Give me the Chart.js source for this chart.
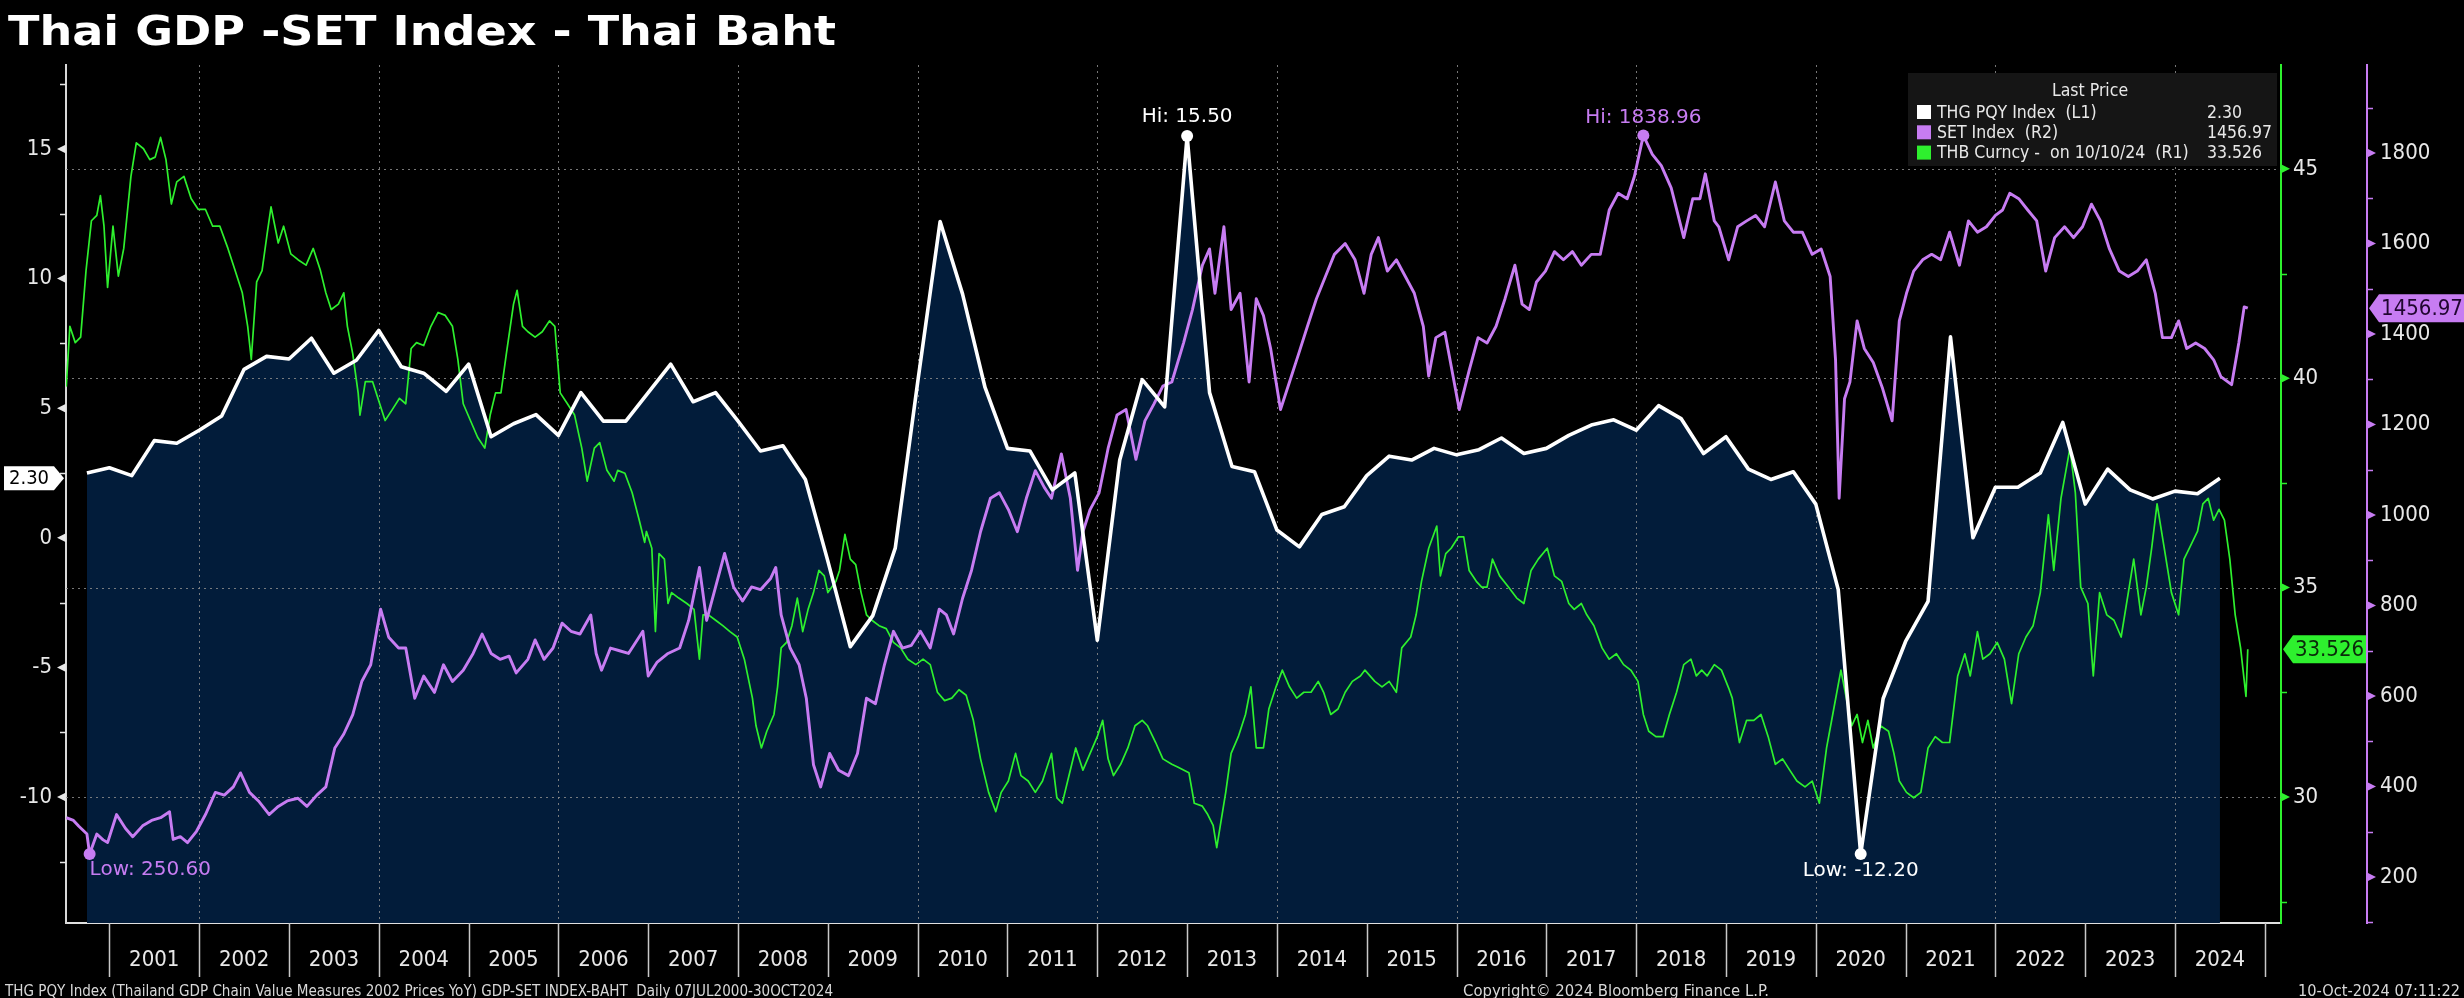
<!DOCTYPE html>
<html><head><meta charset="utf-8">
<style>html,body{margin:0;padding:0;background:#000;overflow:hidden}canvas{display:block}</style>
<script src="https://cdn.jsdelivr.net/npm/chart.js@4.4.1/dist/chart.umd.min.js"></script>
</head><body>
<canvas id="c" width="2464" height="998"></canvas>
<script>
// ---------- DATA ----------
const titleText = 'Thai GDP -SET Index - Thai Baht';
const yearLabels = [2001,2002,2003,2004,2005,2006,2007,2008,2009,2010,2011,2012,2013,2014,2015,2016,2017,2018,2019,2020,2021,2022,2023,2024];
const yearBounds = [2001,2002,2003,2004,2005,2006,2007,2008,2009,2010,2011,2012,2013,2014,2015,2016,2017,2018,2019,2020,2021,2022,2023,2024,2025];
const gridYears = [2002,2004,2006,2008,2010,2012,2014,2016,2018,2020,2022,2024];
const gdpTicks = [-10,-5,0,5,10,15];
const gdpMinor = [-12.5,-7.5,-2.5,2.5,7.5,12.5,17.5];
const thbTicks = [30,35,40,45];
const thbMinor = [27.5,32.5,37.5,42.5,47.5];
const setTicks = [200,400,600,800,1000,1200,1400,1600,1800];
const setMinor = [100,300,500,700,900,1100,1300,1500,1700,1900];

// Thai GDP YoY %, quarterly, first observation = Q3 2000 (plotted at quarter end)
const gdpFirstQuarterEnd = 2000.75;
const gdpValues = [
  2.5,
  2.7, 2.4, 3.75, 3.65,
  4.15, 4.7, 6.5, 7.0,
  6.9, 7.7, 6.35, 6.85,
  8.0, 6.6, 6.35, 5.65,
  6.7, 3.9, 4.4, 4.75,
  3.95, 5.6, 4.5, 4.5,
  5.6, 6.7, 5.25, 5.6,
  4.5, 3.35, 3.55, 2.25,
  -0.9, -4.2, -3.0, -0.4,
  6.0, 12.2, 9.4, 5.8,
  3.45, 3.35, 1.85, 2.5,
  -3.95, 3.0, 6.1, 5.05,
  15.5, 5.6, 2.75, 2.55,
  0.3, -0.35, 0.9, 1.2,
  2.4, 3.15, 3.0, 3.45,
  3.2, 3.4, 3.85, 3.25,
  3.45, 3.95, 4.35, 4.55,
  4.15, 5.1, 4.6, 3.25,
  3.9, 2.65, 2.25, 2.55,
  1.3, -2.0, -12.2, -6.2,
  -4.0, -2.45, 7.75, 0.0,
  1.95, 1.95, 2.5, 4.45,
  1.3, 2.65, 1.85, 1.5,
  1.8, 1.7, 2.3
];

// SET Index (decimal-year dates, values)
const setYears = [2000.52,2000.60,2000.66,2000.75,2000.78,2000.86,2000.93,2000.98,2001.08,2001.18,2001.26,2001.37,2001.47,2001.57,2001.67,2001.71,2001.79,2001.87,2001.97,
2002.07,2002.18,2002.28,2002.38,2002.46,2002.56,2002.66,2002.78,2002.88,2002.98,2003.10,2003.20,2003.31,2003.41,2003.51,2003.61,2003.71,2003.81,2003.91,
2004.02,2004.11,2004.22,2004.30,2004.40,2004.50,2004.62,2004.72,2004.82,2004.94,2005.05,2005.15,2005.25,2005.35,2005.45,2005.53,2005.66,2005.74,2005.84,2005.94,
2006.04,2006.14,2006.24,2006.36,2006.42,2006.48,2006.58,2006.68,2006.78,2006.94,2007.00,2007.10,2007.22,2007.35,2007.45,2007.57,2007.65,2007.75,2007.85,2007.95,
2008.05,2008.15,2008.25,2008.36,2008.42,2008.48,2008.58,2008.68,2008.76,2008.84,2008.92,2009.02,2009.12,2009.23,2009.33,2009.43,2009.53,2009.63,2009.73,2009.83,2009.93,
2010.03,2010.14,2010.24,2010.32,2010.40,2010.50,2010.60,2010.70,2010.81,2010.91,2011.01,2011.11,2011.21,2011.31,2011.41,2011.49,2011.60,2011.70,2011.78,2011.84,2011.92,
2012.02,2012.12,2012.22,2012.32,2012.43,2012.53,2012.63,2012.73,2012.83,2012.96,2013.06,2013.17,2013.25,2013.31,2013.41,2013.49,2013.59,2013.69,2013.77,2013.85,2013.93,
2014.04,2014.14,2014.24,2014.34,2014.44,2014.54,2014.64,2014.76,2014.87,2014.97,2015.05,2015.13,2015.23,2015.33,2015.43,2015.53,2015.63,2015.69,2015.77,2015.87,2015.95,
2016.03,2016.14,2016.24,2016.34,2016.44,2016.54,2016.65,2016.73,2016.81,2016.89,2016.99,2017.09,2017.19,2017.29,2017.39,2017.50,2017.60,2017.70,2017.80,2017.90,2017.98,
2018.08,2018.18,2018.28,2018.39,2018.53,2018.63,2018.71,2018.77,2018.87,2018.92,2019.03,2019.13,2019.23,2019.33,2019.43,2019.55,2019.65,2019.75,2019.85,2019.96,
2020.06,2020.16,2020.22,2020.26,2020.32,2020.38,2020.46,2020.54,2020.64,2020.74,2020.85,2020.93,2021.01,2021.09,2021.19,2021.29,2021.39,2021.49,2021.60,2021.70,2021.80,2021.90,
2022.00,2022.08,2022.16,2022.26,2022.36,2022.46,2022.56,2022.66,2022.77,2022.87,2022.97,2023.07,2023.17,2023.27,2023.38,2023.48,2023.58,2023.68,2023.78,2023.86,2023.96,
2024.04,2024.13,2024.23,2024.33,2024.43,2024.51,2024.63,2024.71,2024.77,2024.81];
const setValues = [331,325,312,295,250.60,295,282,276,338,307,289,313,325,331,344,283,289,276,301,
338,387,381,399,430,387,368,338,356,368,374,356,381,399,485,516,559,632,669,
792,730,706,706,595,644,608,669,632,657,694,737,694,681,688,651,681,724,681,706,
761,743,737,779,694,657,706,700,694,743,644,675,694,706,767,884,767,841,915,841,
810,841,835,859,884,779,706,669,595,448,399,473,436,424,473,595,583,669,743,706,712,
743,706,792,779,737,816,878,963,1037,1049,1012,963,1037,1098,1061,1037,1135,1037,878,963,1012,
1049,1147,1221,1233,1123,1208,1245,1285,1294,1380,1454,1552,1588,1490,1637,1454,1490,1294,1478,1441,1368,
1233,1294,1355,1417,1478,1527,1576,1600,1564,1490,1576,1613,1539,1564,1527,1490,1417,1307,1392,1404,1319,
1233,1319,1392,1380,1417,1478,1552,1466,1454,1515,1539,1582,1564,1582,1552,1576,1576,1674,1711,1699,1748,
1838.96,1797,1772,1723,1613,1699,1699,1754,1650,1637,1564,1637,1650,1662,1637,1736,1650,1625,1625,1576,
1588,1527,1343,1037,1257,1294,1429,1368,1337,1282,1208,1429,1490,1539,1564,1576,1564,1625,1552,1650,1625,1637,
1662,1674,1711,1699,1674,1650,1539,1613,1637,1613,1637,1687,1650,1588,1539,1527,1539,1564,1490,1392,1392,
1429,1368,1380,1368,1343,1306,1288,1380,1460,1456.97];

// THB per USD (decimal-year dates, values)
const thbYears = [2000.52,2000.56,2000.62,2000.68,2000.74,2000.80,2000.86,2000.90,2000.94,2000.98,2001.04,2001.10,2001.16,2001.24,2001.30,2001.38,2001.45,2001.51,2001.57,2001.63,2001.69,2001.75,2001.83,2001.91,2001.99,
2002.07,2002.15,2002.23,2002.32,2002.40,2002.48,2002.54,2002.58,2002.64,2002.70,2002.76,2002.80,2002.88,2002.94,2003.02,2003.10,2003.19,2003.27,2003.35,2003.41,2003.47,2003.55,2003.61,2003.65,2003.71,2003.77,2003.79,2003.85,2003.93,
2004.01,2004.07,2004.15,2004.23,2004.30,2004.36,2004.42,2004.50,2004.58,2004.66,2004.74,2004.82,2004.88,2004.94,2005.02,2005.10,2005.18,2005.24,2005.30,2005.36,2005.42,2005.50,2005.54,2005.60,2005.66,2005.74,2005.82,2005.90,2005.96,
2006.02,2006.10,2006.18,2006.26,2006.32,2006.40,2006.46,2006.54,2006.62,2006.66,2006.74,2006.82,2006.90,2006.96,2006.98,2007.04,2007.08,2007.12,2007.18,2007.22,2007.26,2007.34,2007.43,2007.51,2007.57,2007.61,2007.67,2007.75,2007.83,2007.91,2007.99,
2008.07,2008.16,2008.20,2008.26,2008.32,2008.40,2008.44,2008.48,2008.54,2008.60,2008.66,2008.72,2008.78,2008.84,2008.90,2008.96,2009.00,2009.09,2009.13,2009.19,2009.25,2009.31,2009.37,2009.43,2009.49,2009.57,2009.65,2009.73,2009.81,2009.89,2009.98,
2010.06,2010.14,2010.22,2010.30,2010.38,2010.46,2010.54,2010.62,2010.70,2010.79,2010.87,2010.93,2011.01,2011.09,2011.15,2011.23,2011.31,2011.39,2011.49,2011.55,2011.61,2011.67,2011.76,2011.84,2011.92,
2012.00,2012.06,2012.12,2012.18,2012.26,2012.34,2012.42,2012.50,2012.56,2012.65,2012.73,2012.83,2012.90,2013.02,2013.08,2013.17,2013.23,2013.29,2013.33,2013.37,2013.43,2013.49,2013.57,2013.65,2013.71,2013.77,2013.85,2013.91,2013.99,
2014.06,2014.14,2014.22,2014.30,2014.38,2014.46,2014.52,2014.60,2014.68,2014.76,2014.84,2014.93,2014.98,2015.09,2015.17,2015.25,2015.33,2015.39,2015.49,2015.55,2015.61,2015.69,2015.78,2015.82,2015.88,2015.94,
2016.02,2016.08,2016.14,2016.22,2016.28,2016.34,2016.40,2016.48,2016.58,2016.67,2016.75,2016.83,2016.91,2017.01,2017.09,2017.17,2017.25,2017.31,2017.39,2017.45,2017.53,2017.62,2017.70,2017.78,2017.86,2017.94,
2018.02,2018.08,2018.14,2018.22,2018.30,2018.37,2018.45,2018.53,2018.61,2018.67,2018.73,2018.79,2018.87,2018.95,2019.03,2019.07,2019.15,2019.23,2019.31,2019.39,2019.47,2019.55,2019.63,2019.71,2019.79,2019.88,2019.96,
2020.04,2020.12,2020.20,2020.28,2020.34,2020.40,2020.46,2020.52,2020.58,2020.64,2020.72,2020.81,2020.87,2020.93,2021.01,2021.09,2021.17,2021.25,2021.33,2021.41,2021.49,2021.58,2021.66,2021.72,2021.80,2021.86,2021.94,
2022.02,2022.10,2022.18,2022.26,2022.34,2022.42,2022.50,2022.59,2022.65,2022.73,2022.83,2022.89,2022.95,2023.03,2023.09,2023.16,2023.24,2023.32,2023.40,2023.48,2023.54,2023.62,2023.68,2023.74,2023.80,2023.88,2023.96,
2024.04,2024.10,2024.16,2024.25,2024.31,2024.37,2024.43,2024.49,2024.55,2024.61,2024.67,2024.73,2024.79,2024.81];
const thbValues = [39.80,41.24,40.85,40.98,42.57,43.76,43.89,44.36,43.63,42.17,43.63,42.44,43.10,44.82,45.62,45.48,45.22,45.28,45.75,45.22,44.16,44.69,44.82,44.29,44.03,
44.03,43.63,43.63,43.10,42.57,42.04,41.24,40.45,42.30,42.57,43.50,44.09,43.23,43.63,42.97,42.83,42.70,43.10,42.57,42.04,41.64,41.77,42.04,41.24,40.58,39.65,39.12,39.92,39.92,
39.39,38.99,39.25,39.52,39.39,40.71,40.85,40.78,41.24,41.57,41.50,41.24,40.45,39.39,38.99,38.59,38.33,39.12,39.65,39.65,40.58,41.77,42.10,41.24,41.11,40.98,41.11,41.37,41.24,
39.65,39.39,39.12,38.33,37.54,38.33,38.46,37.80,37.54,37.80,37.73,37.27,36.61,36.08,36.34,35.94,33.95,35.81,35.68,34.62,34.88,34.75,34.62,34.48,33.29,34.35,34.35,34.22,34.09,33.95,33.82,
33.29,32.36,31.70,31.17,31.57,31.97,32.63,33.56,33.69,34.09,34.75,33.95,34.48,34.88,35.41,35.28,34.88,35.15,35.41,36.27,35.68,35.55,34.88,34.35,34.22,34.09,34.02,33.69,33.56,33.29,33.16,
33.29,33.16,32.50,32.30,32.36,32.56,32.43,31.83,30.91,30.11,29.65,30.11,30.38,31.04,30.51,30.38,30.11,30.38,31.04,29.98,29.85,30.38,31.17,30.64,31.04,
31.44,31.83,30.91,30.51,30.78,31.17,31.70,31.83,31.70,31.30,30.91,30.78,30.71,30.58,29.85,29.78,29.58,29.32,28.79,29.32,30.11,31.04,31.44,31.97,32.63,31.17,31.17,32.10,32.63,
33.03,32.63,32.36,32.50,32.50,32.76,32.50,31.97,32.10,32.50,32.76,32.89,33.03,32.76,32.63,32.76,32.50,33.56,33.82,34.35,35.15,35.94,36.47,35.28,35.81,35.94,
36.21,36.21,35.41,35.15,35.01,35.01,35.68,35.28,35.01,34.75,34.62,35.41,35.68,35.94,35.28,35.15,34.62,34.48,34.62,34.35,34.09,33.56,33.29,33.42,33.16,33.03,
32.76,31.97,31.57,31.44,31.44,31.97,32.50,33.16,33.29,32.89,33.03,32.89,33.16,33.03,32.60,32.36,31.30,31.83,31.83,31.97,31.44,30.78,30.91,30.64,30.38,30.24,30.38,
29.85,31.17,32.10,33.03,32.36,31.70,31.97,31.30,31.83,31.17,31.70,31.57,31.04,30.38,30.11,29.98,30.11,31.17,31.44,31.30,31.30,32.89,33.42,32.89,33.95,33.29,33.42,
33.69,33.29,32.23,33.42,33.82,34.09,34.88,36.74,35.41,37.13,38.33,37.27,35.01,34.62,32.89,34.88,34.35,34.22,33.82,34.88,35.68,34.35,35.01,35.94,37.00,35.94,34.88,
34.35,35.68,35.94,36.34,37.00,37.13,36.61,36.87,36.61,35.68,34.35,33.56,32.40,33.526];

const legendRows = ['THG PQY Index  (L1)', 'SET Index  (R2)', 'THB Curncy -  on 10/10/24  (R1)'];
const legendValues = ['2.30', '1456.97', '33.526'];
const footerLeft = 'THG PQY Index (Thailand GDP Chain Value Measures 2002 Prices YoY) GDP-SET INDEX-BAHT  Daily 07JUL2000-30OCT2024';
const footerMid = 'Copyright\u00A9 2024 Bloomberg Finance L.P.';
const footerRight = '10-Oct-2024 07:11:22';

// ---------- STYLE ----------
const FONT = '"DejaVu Sans Condensed", "DejaVu Sans", sans-serif';
const WHITE = '#ffffff', GREEN = '#2ef02e', PURPLE = '#c77cf2', NAVY = '#021c3a';

const toXY = (xs, ys) => xs.map((x, i) => ({x, y: ys[i]}));
const gdpData = gdpValues.map((v, i) => ({x: gdpFirstQuarterEnd + i * 0.25, y: v}));

function line(ctx, x1, y1, x2, y2) { ctx.beginPath(); ctx.moveTo(x1, y1); ctx.lineTo(x2, y2); ctx.stroke(); }
function fitText(ctx, text, x, y, w, font, color) {
  ctx.save(); ctx.font = font; ctx.fillStyle = color; ctx.textBaseline = 'alphabetic'; ctx.textAlign = 'left';
  const m = ctx.measureText(text).width; ctx.translate(x, y); ctx.scale(w / m, 1); ctx.fillText(text, 0, 0); ctx.restore();
}
// dir: direction in which the tag body extends from its tip (+1 right, -1 left)
function tag(ctx, dir, tipX, yc, bodyW, h, fill, text, tcolor, font) {
  ctx.save(); ctx.fillStyle = fill; ctx.beginPath();
  const n = 10 * dir;
  ctx.moveTo(tipX, yc); ctx.lineTo(tipX + n, yc - h / 2); ctx.lineTo(tipX + n + dir * bodyW, yc - h / 2);
  ctx.lineTo(tipX + n + dir * bodyW, yc + h / 2); ctx.lineTo(tipX + n, yc + h / 2); ctx.closePath(); ctx.fill();
  ctx.fillStyle = tcolor; ctx.font = font; ctx.textAlign = 'center'; ctx.textBaseline = 'middle';
  ctx.fillText(text, tipX + n + dir * bodyW / 2, yc + 1); ctx.restore();
}
function tri(ctx, scale, vals, ax, dir, color) {
  ctx.fillStyle = color;
  for (const v of vals) { const y = scale.getPixelForValue(v);
    ctx.beginPath(); ctx.moveTo(ax, y - 4.5); ctx.lineTo(ax + dir * 9, y); ctx.lineTo(ax, y + 4.5); ctx.closePath(); ctx.fill(); }
}
function minor(ctx, scale, vals, ax, dir, color) {
  ctx.strokeStyle = color; ctx.lineWidth = 1.5;
  for (const v of vals) { if (v < scale.min || v > scale.max) continue;
    const y = Math.round(scale.getPixelForValue(v)) + 0.5; line(ctx, ax, y, ax + dir * 6, y); }
}
function marker(ctx, x, y, color) { ctx.fillStyle = color; ctx.beginPath(); ctx.arc(x, y, 6, 0, Math.PI * 2); ctx.fill(); }

const decor = {
  id: 'decor',
  beforeDraw(chart) { const c = chart.ctx; c.save(); c.fillStyle = '#000'; c.fillRect(0, 0, chart.width, chart.height); c.restore(); },
  afterDatasetDraw(chart, args) {
    if (args.index !== 0) return;
    const {ctx, chartArea: a, scales} = chart;
    ctx.save(); ctx.strokeStyle = 'rgba(140,140,140,0.85)'; ctx.lineWidth = 1; ctx.setLineDash([2, 4]);
    for (const yr of gridYears) { const x = Math.round(scales.x.getPixelForValue(yr)) + 0.5; line(ctx, x, a.top, x, a.bottom); }
    for (const v of thbTicks) { const y = Math.round(scales.y1.getPixelForValue(v)) + 0.5; line(ctx, a.left, y, a.right, y); }
    ctx.restore();
  },
  afterDraw(chart) {
    const {ctx, chartArea: a, scales} = chart;
    const sx = scales.x, sy = scales.y, s1 = scales.y1, s2 = scales.y2;
    ctx.save();
    // axis tick marks
    tri(ctx, sy, gdpTicks, a.left, -1, '#e8e8e8'); minor(ctx, sy, gdpMinor, a.left, -1, '#e8e8e8');
    tri(ctx, s1, thbTicks, s1.left, 1, GREEN); minor(ctx, s1, thbMinor, s1.left, 1, GREEN);
    tri(ctx, s2, setTicks, s2.left, 1, PURPLE); minor(ctx, s2, setMinor, s2.left, 1, PURPLE);
    // year separators
    ctx.strokeStyle = '#c8c8c8'; ctx.lineWidth = 1.5;
    for (const yb of yearBounds) { const x = Math.round(sx.getPixelForValue(yb)) + 0.5; line(ctx, x, a.bottom, x, a.bottom + 54); }
    // last value tags
    tag(ctx, -1, a.left - 2, sy.getPixelForValue(gdpValues[gdpValues.length - 1]), 50, 24, '#ffffff', legendValues[0], '#000', '20px ' + FONT);
    tag(ctx, 1, s1.left + 2, s1.getPixelForValue(thbValues[thbValues.length - 1]), 73, 28, GREEN, legendValues[2], '#0a2a0a', '22px ' + FONT);
    tag(ctx, 1, s2.left + 2, s2.getPixelForValue(setValues[setValues.length - 1]), 86, 28, PURPLE, legendValues[1], '#200630', '22px ' + FONT);
    // hi / low markers
    const ann = '20px "DejaVu Sans", sans-serif';
    ctx.font = ann; ctx.textBaseline = 'middle';
    let gi = gdpValues.indexOf(Math.max(...gdpValues)), gl = gdpValues.indexOf(Math.min(...gdpValues));
    let px = sx.getPixelForValue(gdpData[gi].x), py = sy.getPixelForValue(gdpData[gi].y);
    marker(ctx, px, py, WHITE); ctx.fillStyle = WHITE; ctx.textAlign = 'center'; ctx.fillText('Hi: ' + gdpData[gi].y.toFixed(2), px, py - 19);
    px = sx.getPixelForValue(gdpData[gl].x); py = sy.getPixelForValue(gdpData[gl].y);
    marker(ctx, px, py, WHITE); ctx.fillStyle = WHITE; ctx.fillText('Low: ' + gdpData[gl].y.toFixed(2), px, py + 17);
    let si = setValues.indexOf(Math.max(...setValues)), sl = setValues.indexOf(Math.min(...setValues));
    px = sx.getPixelForValue(setYears[si]); py = s2.getPixelForValue(setValues[si]);
    marker(ctx, px, py, PURPLE); ctx.fillStyle = PURPLE; ctx.fillText('Hi: ' + setValues[si].toFixed(2), px, py - 18);
    px = sx.getPixelForValue(setYears[sl]); py = s2.getPixelForValue(setValues[sl]);
    marker(ctx, px, py, PURPLE); ctx.fillStyle = PURPLE; ctx.textAlign = 'left'; ctx.fillText('Low: ' + setValues[sl].toFixed(2), px, py + 16);
    // legend box
    ctx.fillStyle = '#151515'; ctx.fillRect(1908, 73, 369, 93);
    ctx.font = '17.5px ' + FONT; ctx.fillStyle = '#e8e8e8'; ctx.textAlign = 'center'; ctx.textBaseline = 'middle';
    ctx.fillText('Last Price', 2090, 91);
    const cols = [WHITE, PURPLE, GREEN];
    legendRows.forEach((r, i) => {
      const y = 112 + i * 20.3;
      ctx.fillStyle = cols[i]; ctx.fillRect(1917, y - 7, 14, 14);
      ctx.fillStyle = '#e8e8e8'; ctx.textAlign = 'left'; ctx.fillText(r, 1937, y + 1);
      ctx.fillText(legendValues[i], 2207, y + 1);
    });
    // title & footer
    fitText(ctx, titleText, 8, 45, 828, 'bold 41px "DejaVu Sans", sans-serif', '#ffffff');
    fitText(ctx, footerLeft, 5, 996, 828, '16px ' + FONT, '#d8d8d8');
    fitText(ctx, footerMid, 1463, 996, 306, '16px ' + FONT, '#d8d8d8');
    fitText(ctx, footerRight, 2298, 996, 162, '16px ' + FONT, '#d8d8d8');
    ctx.restore();
  }
};

const tickFont = {family: FONT, size: 22};
const plain = v => String(v);
new Chart(document.getElementById('c'), {
  type: 'line',
  data: { datasets: [
    {label: 'gdpArea', data: gdpData, yAxisID: 'y', borderWidth: 0, pointRadius: 0, fill: 'start', backgroundColor: NAVY, order: 10},
    {label: 'THB Curncy', data: toXY(thbYears, thbValues), yAxisID: 'y1', borderColor: GREEN, borderWidth: 1.7, pointRadius: 0, fill: false, order: 3},
    {label: 'SET Index', data: toXY(setYears, setValues), yAxisID: 'y2', borderColor: PURPLE, borderWidth: 2.9, pointRadius: 0, fill: false, order: 2},
    {label: 'THG PQY Index', data: gdpData, yAxisID: 'y', borderColor: WHITE, borderWidth: 3.6, pointRadius: 0, fill: false, order: 1}
  ]},
  options: {
    responsive: false, animation: false, devicePixelRatio: 1,
    layout: {padding: {top: 65, left: 0, right: 0, bottom: 0}},
    plugins: {legend: {display: false}, tooltip: {enabled: false}, title: {display: false}},
    elements: {line: {tension: 0, borderJoinStyle: 'round'}},
    scales: {
      x: {type: 'linear', position: 'bottom', min: 2000.517, max: 2025.18,
          afterFit: s => { s.height = 75; },
          afterBuildTicks: s => { s.ticks = yearLabels.map(y => ({value: y + 0.5})); },
          ticks: {color: '#e8e8e8', font: tickFont, padding: 24, autoSkip: false, maxRotation: 0, callback: v => String(Math.floor(v))},
          grid: {display: false, drawTicks: false}, border: {display: true, color: '#e0e0e0', width: 2}},
      y: {type: 'linear', position: 'left', min: -14.86, max: 18.24,
          afterFit: s => { s.width = 66; },
          afterBuildTicks: s => { s.ticks = gdpTicks.map(v => ({value: v})); },
          ticks: {color: '#e8e8e8', font: tickFont, padding: 14, callback: plain},
          grid: {display: false, drawTicks: false}, border: {display: true, color: '#d8d8d8', width: 2}},
      y1: {type: 'linear', position: 'right', weight: 0, min: 26.99, max: 47.48,
          afterFit: s => { s.width = 86; },
          afterBuildTicks: s => { s.ticks = thbTicks.map(v => ({value: v})); },
          ticks: {color: '#e8e8e8', font: tickFont, padding: 12, callback: plain},
          grid: {display: false, drawTicks: false}, border: {display: true, color: GREEN, width: 2}},
      y2: {type: 'linear', position: 'right', weight: 1, min: 98.3, max: 1994.5,
          afterFit: s => { s.width = 97; },
          afterBuildTicks: s => { s.ticks = setTicks.map(v => ({value: v})); },
          ticks: {color: '#e8e8e8', font: tickFont, padding: 13, callback: plain},
          grid: {display: false, drawTicks: false}, border: {display: true, color: PURPLE, width: 2}}
    }
  },
  plugins: [decor]
});
</script>
</body></html>
